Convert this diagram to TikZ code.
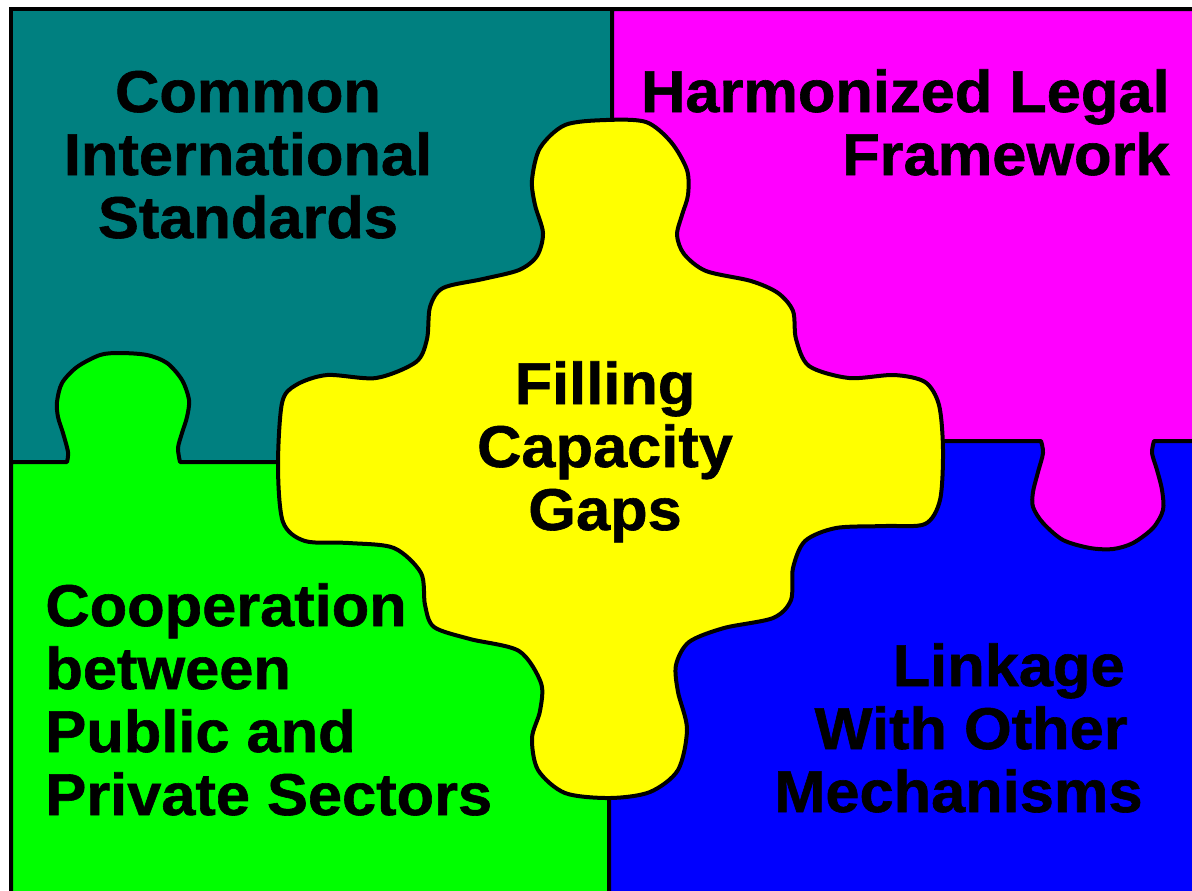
\documentclass[tikz,border=0pt]{standalone}
\usepackage{fontspec}
\setmainfont[FakeStretch=1.04,FakeBold=1]{Liberation Sans}
\definecolor{cteal}{RGB}{0,128,128}
\definecolor{cmagenta}{RGB}{255,0,255}
\definecolor{cgreen}{RGB}{0,255,0}
\definecolor{cblue}{RGB}{0,0,255}
\definecolor{cyellow}{RGB}{255,255,0}
\begin{document}
\begin{tikzpicture}[x=0.5pt,y=-0.5pt,
        piece/.style={draw=black,line width=2pt,line join=round},
        label/.style={font=\bfseries\fontsize{29.5}{31.5}\selectfont,inner sep=0pt}]
    \clip (0,0) rectangle (1192,890);
    \fill[white] (0,0) rectangle (1192,890);
    % four corner pieces
    \draw[piece,fill=cteal] (11,9) rectangle (612,462);
    \draw[piece,fill=cblue] (609,441) rectangle (1200,900);
    \draw[piece,fill=cgreen] (11,900) -- (11,462) -- (67,462)
        -- plot[smooth] coordinates {(67,462) (68,452) (63,433) (58,417) (57,402) (62,383) (77,367) (100,355) (120,353) (147,355) (167,363) (182,380) (189,400) (187,417) (182,433) (178,448) (180,462)}
        -- (609,462) -- (609,900) -- cycle;
    \draw[piece,fill=cmagenta] (612,9) -- (1200,9) -- (1200,441) -- (1154,441)
        -- plot[smooth] coordinates {(1154,441) (1152,453) (1157,470) (1162,490) (1163,510) (1153,528) (1133,543) (1113,549) (1090,548) (1063,540) (1043,523) (1033,507) (1033,492) (1038,472) (1043,453) (1041,441)}
        -- (612,441) -- cycle;
    % centre piece
    \draw[piece,fill=cyellow] plot[smooth cycle] coordinates {(606,120) (646,122) (671,142) (687,170) (688,195) (682,215) (677,235) (684,254) (706,271) (751,281) (778,293) (793,311) (796,339) (809,366) (849,378) (894,375) (925,382) (939,405) (943,450) (940,500) (925,524) (885,526) (836,528) (805,541) (793,568) (791,600) (773,618) (724,628) (689,642) (676,665) (678,692) (687,729) (678,770) (650,792) (610,798) (565,793) (538,770) (532,738) (540,711) (541,683) (519,651) (470,639) (434,627) (425,605) (421,573) (394,548) (349,543) (305,541) (283,522) (278,467) (282,403) (296,385) (327,375) (376,378) (416,362) (427,339) (430,307) (443,288) (483,279) (519,270) (537,256) (543,233) (535,205) (532,180) (540,148) (565,125)};
    \draw[line width=2.2pt] (11,9) rectangle (1200,900);
    % labels
    \node[label,align=center,anchor=base] (standards) at (248,238) {Common\\International\\Standards};
    \node[label,align=right,anchor=base east] (legal) at (1170,175) {Harmonized Legal\\Framework};
    \node[label,align=center,anchor=base] (gaps) at (605,530) {Filling\\Capacity\\Gaps};
    \node[label,align=left,anchor=base west] (sectors) at (45,815) {Cooperation\\between\\Public and\\Private Sectors};
    \node[label,align=right,anchor=base east] (linkage) at (1143,812) {\mbox{Linkage\kern9pt}\\\mbox{With Other\kern7.5pt}\\Mechanisms};
\end{tikzpicture}
\end{document}
